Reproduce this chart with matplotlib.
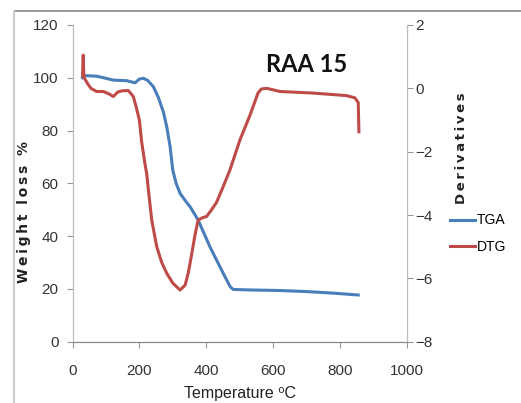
import matplotlib.pyplot as plt
from matplotlib.lines import Line2D

# TGA curve (weight %, left axis)
tga_temp = [30, 40, 72, 100, 122, 162, 187, 200, 212, 225, 242, 257, 272, 282, 292,
            300, 310, 322, 340, 352, 376, 411, 451, 472, 481, 531, 621, 700, 780, 855]
tga_weight = [100, 100.8, 100.6, 99.8, 99.1, 98.9, 98.1, 99.5, 99.8, 99, 96.6, 92.5, 87,
              81.4, 73.9, 65, 60, 56.2, 53, 51.1, 46.1, 36, 25.9, 20.8, 19.8, 19.6, 19.4,
              19, 18.4, 17.7]

# DTG curve (derivative, right axis)
dtg_temp = [30, 32, 34, 45, 55, 72, 92, 110, 122, 135, 147, 167, 182, 192, 200, 207, 217,
            222, 227, 237, 252, 267, 282, 300, 322, 337, 347, 357, 367, 376, 390, 401, 415,
            431, 451, 471, 501, 531, 555, 565, 581, 621, 720, 820, 845, 855, 857]
dtg_value = [0.4, 1.05, 0.35, 0.15, 0.0, -0.1, -0.1, -0.18, -0.26, -0.12, -0.08, -0.07,
             -0.26, -0.65, -1.0, -1.7, -2.4, -2.7, -3.2, -4.16, -5.0, -5.5, -5.84, -6.15,
             -6.37, -6.21, -5.8, -5.21, -4.6, -4.16, -4.08, -4.05, -3.85, -3.6, -3.1, -2.58,
             -1.63, -0.85, -0.15, -0.02, 0.0, -0.1, -0.15, -0.23, -0.3, -0.45, -1.37]

x_ticks = [0, 200, 400, 600, 800, 1000]
left_ticks = [0, 20, 40, 60, 80, 100, 120]
right_ticks = [-8, -6, -4, -2, 0, 2]

blue = '#4A7EBB'
red = '#BE4B48'
tick_font = ['Liberation Sans', 'DejaVu Sans']


def spaced(s):
    # wide letter spacing like the original axis titles
    return '\u2009'.join(s)


fig = plt.figure(figsize=(5.21, 4.03), dpi=100)

# outer chart frame
fig.add_artist(Line2D([14 / 521, 1.0], [1 - 11 / 403] * 2, color='#888888', lw=1.2))
fig.add_artist(Line2D([14 / 521] * 2, [0.0, 1 - 11 / 403], color='#cccccc', lw=1.5))

ax = fig.add_axes([0.1392, 0.1521, 0.6414, 0.7859])
ax2 = ax.twinx()

ax.plot(tga_temp, tga_weight, color=blue, lw=2.2, label='TGA')
ax2.plot(dtg_temp, dtg_value, color=red, lw=2.2, label='DTG')

ax.set_xlim(0, 1000)
ax.set_ylim(0, 120)
ax2.set_ylim(-8, 2)
ax.set_xticks(x_ticks)
ax.set_yticks(left_ticks)
ax2.set_yticks(right_ticks)

for a in (ax, ax2):
    a.spines['top'].set_visible(False)
    a.spines['left'].set_color('#bbbbbb')
    a.spines['right'].set_color('#bbbbbb')
    a.spines['bottom'].set_color('#888888')
    a.tick_params(length=4, color='#999999', labelcolor='#333333', labelsize=11)
    for lab in a.get_xticklabels() + a.get_yticklabels():
        lab.set_family(tick_font)
ax.tick_params(axis='x', pad=12)
ax.tick_params(axis='y', pad=6)
ax2.tick_params(axis='y', pad=2)

ax.set_xlabel('Temperature \u2070C', fontsize=11.5, family=tick_font, color='#222222',
              labelpad=6)
ax.set_ylabel(spaced('Weight') + '  ' + spaced('loss') + '  %', fontsize=10,
              fontweight='bold', color='#222222')
ax.yaxis.set_label_coords(-0.125, 0.41)
ax2.set_ylabel(spaced('Derivatives'), fontsize=9.5, fontweight='bold', color='#222222',
               rotation=90)
ax2.yaxis.set_label_coords(1.145, 0.61)

ax.text(0.70, 0.874, 'RAA 15', transform=ax.transAxes, ha='center', va='center',
        fontsize=17, fontweight='bold', family=['Lato', 'DejaVu Sans'], color='#111111')

handles = ax.get_lines() + ax2.get_lines()
fig.legend(handles, [h.get_label() for h in handles], loc='center left',
           bbox_to_anchor=(0.84, 0.42), frameon=False, handlelength=1.8,
           handletextpad=0.15, labelspacing=0.9,
           prop={'family': tick_font, 'size': 10})

fig.savefig('out.png', dpi=100)
